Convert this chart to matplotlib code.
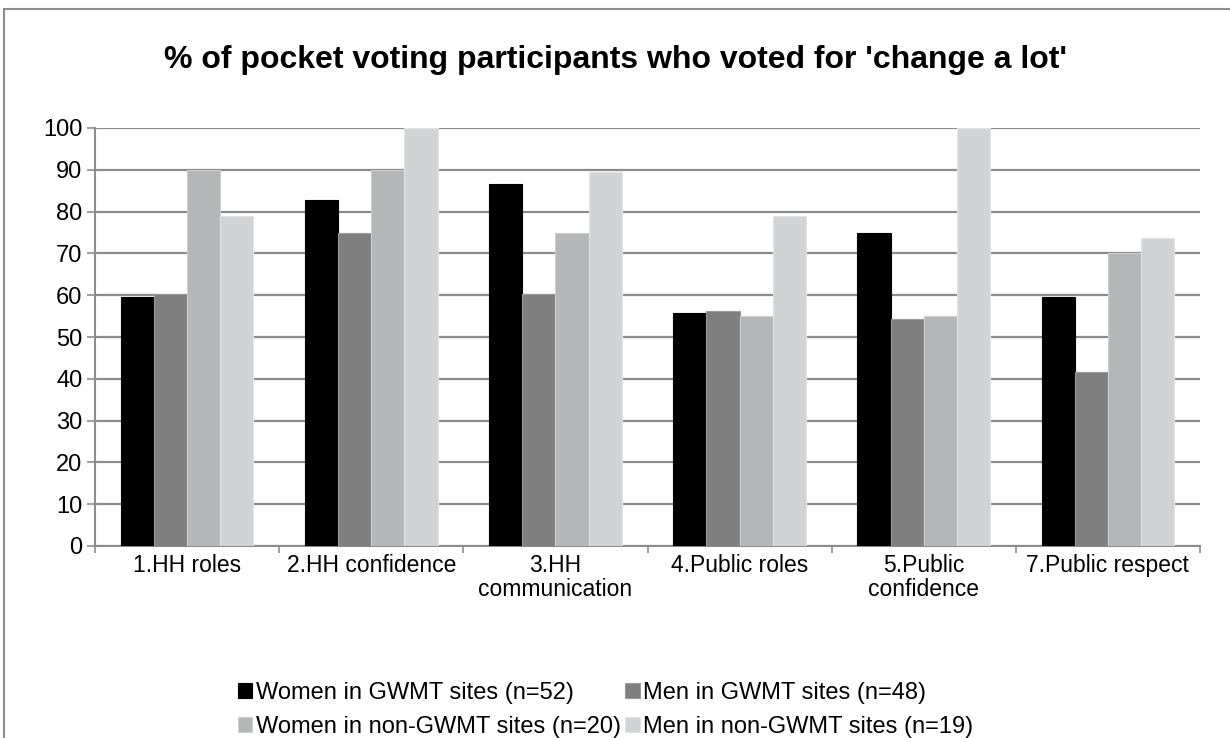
import matplotlib.pyplot as plt
from matplotlib.patches import Rectangle
import numpy as np

plt.rcParams['font.family'] = ['Liberation Sans', 'DejaVu Sans']

categories = ['1.HH roles', '2.HH confidence', '3.HH\ncommunication', '4.Public roles',
              '5.Public\nconfidence', '7.Public respect']
women_gwmt = [59.6, 82.7, 86.5, 55.8, 75.0, 59.6]
men_gwmt = [60.4, 75.0, 60.4, 56.25, 54.2, 41.7]
women_non = [90.0, 90.0, 75.0, 55.0, 55.0, 70.0]
men_non = [78.9, 100.0, 89.5, 78.9, 100.0, 73.7]

series = [
    ('Women in GWMT sites (n=52)', women_gwmt, '#000000', '#000000'),
    ('Men in GWMT sites (n=48)', men_gwmt, '#7f7f7f', '#9a9a9a'),
    ('Women in non-GWMT sites (n=20)', women_non, '#b5b6b7', '#cfcfcf'),
    ('Men in non-GWMT sites (n=19)', men_non, '#d2d3d5', '#e4e4e4'),
]

fig = plt.figure(figsize=(12.3, 7.38), dpi=100)
ax = fig.add_axes([95 / 1230, 1 - 546 / 738, 1105 / 1230, 418 / 738])

x = np.arange(len(categories))
w = 0.18
bars = []
for i, (name, vals, col, ec) in enumerate(series):
    b = ax.bar(x + (i - 1.5) * w, vals, w, color=col, edgecolor=ec, linewidth=0.8,
               label=name, zorder=3)
    bars.append(b)

ax.set_ylim(0, 100)
ax.set_xlim(-0.5, len(categories) - 0.5)
ax.set_yticks(range(0, 101, 10))
ax.yaxis.grid(True, color='#8c8c8c', linewidth=1.6, zorder=0)
ax.set_axisbelow(True)
ax.tick_params(axis='y', labelsize=17, length=6, color='#8c8c8c', width=1.2, pad=3)

ax.set_xticks(x)
ax.set_xticklabels(categories, fontsize=16.5, va='top', linespacing=1.05)
ax.tick_params(axis='x', length=0, pad=6)
ax.set_xticks(np.arange(-0.5, len(categories), 1), minor=True)
ax.tick_params(axis='x', which='minor', length=5, color='#8c8c8c', width=1.2)

for s in ['top', 'right']:
    ax.spines[s].set_visible(False)
for s in ['left', 'bottom']:
    ax.spines[s].set_color('#8c8c8c')
    ax.spines[s].set_linewidth(1.5)

fig.text(0.5, 1 - 60 / 738, "% of pocket voting participants who voted for 'change a lot'",
         ha='center', va='center', fontsize=23, fontweight='bold')

# column-wise fill, so order gives rows: women/men GWMT, then women/men non-GWMT
order = [0, 2, 1, 3]
fig.legend([bars[k] for k in order], [series[k][0] for k in order],
           loc='upper left', bbox_to_anchor=(238 / 1230, 1 - 682 / 738), ncol=2,
           frameon=False, fontsize=17, handlelength=0.6, handleheight=0.6,
           handletextpad=0.15, columnspacing=0.2, labelspacing=0.5,
           borderpad=0, borderaxespad=0)

fig.patches.append(Rectangle((4 / 1230, -0.1), 1.2, 1 - 9 / 738 + 0.1,
                             transform=fig.transFigure, fill=False,
                             edgecolor='#8c8c8c', linewidth=1.5))

fig.savefig('out.png', dpi=100)
